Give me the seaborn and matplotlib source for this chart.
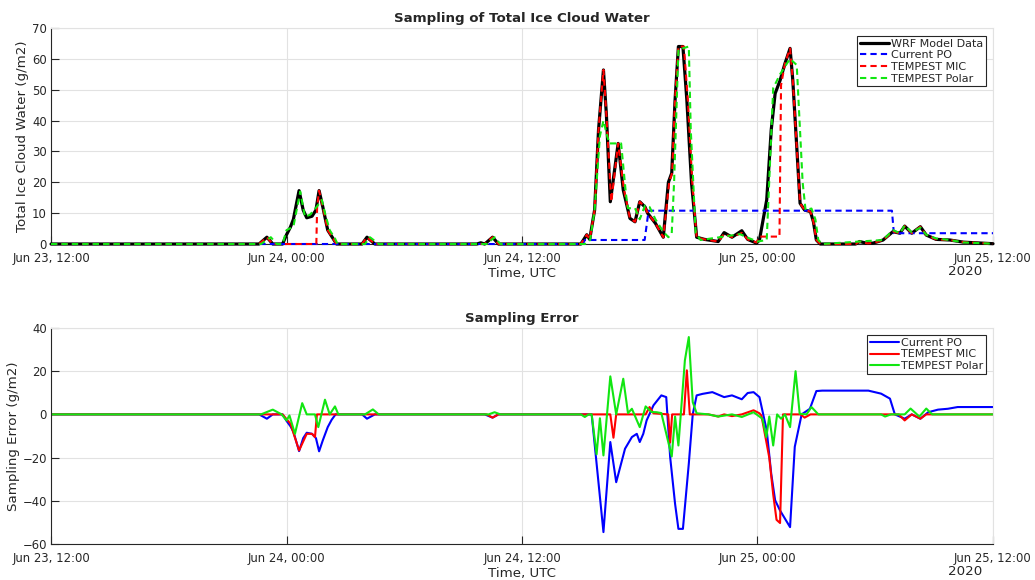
import pandas as pd
import matplotlib
matplotlib.use("Agg")
import matplotlib.pyplot as plt
import matplotlib.dates as mdates
import seaborn as sns

# (hours after 2020-06-23 12:00 UTC, value in g/m2)
wrf = [(0, 0), (10.6, 0), (11.0, 2.2), (11.3, 0), (11.8, 0), (12.0, 3), (12.2, 5.5), (12.35, 8),
       (12.64, 17.3), (12.85, 11), (13.03, 8.5), (13.3, 9.0), (13.5, 11), (13.66, 17.3), (13.85, 12),
       (14.1, 4.5), (14.3, 2.5), (14.55, 0), (15.85, 0), (16.1, 2.2), (16.5, 0), (21.7, 0), (21.9, 0.4),
       (22.1, 0), (22.5, 2.2), (22.8, 0), (27.0, 0), (27.3, 3), (27.45, 1.5), (27.7, 11), (27.9, 37),
       (28.15, 56.4), (28.3, 42), (28.5, 13.7), (28.9, 32.6), (29.16, 17.5), (29.5, 8.3), (29.76, 7.2),
       (30.0, 13.7), (30.27, 12), (30.4, 10), (30.8, 6.7), (31.2, 2.2), (31.46, 20), (31.63, 23),
       (31.8, 46.7), (31.97, 64), (32.2, 64), (32.4, 46.7), (32.64, 19.7), (32.9, 2.2), (33.3, 1.5),
       (34.0, 0.8), (34.3, 3.7), (34.7, 2.2), (35.2, 4.3), (35.5, 1.5), (35.95, 0.3), (36.1, 1.3),
       (36.47, 14.3), (36.7, 37), (36.9, 48.8), (37.15, 53), (37.4, 58.5), (37.66, 63.4), (37.8, 53),
       (38.0, 31.5), (38.17, 13.2), (38.4, 11), (38.7, 10.5), (38.85, 7.2), (39.0, 1.3), (39.2, 0),
       (41.0, 0), (41.2, 0.8), (41.6, 0.2), (41.9, 0.3), (42.4, 1.3), (42.9, 4), (43.26, 3.5),
       (43.5, 5.8), (43.86, 3.5), (44.3, 5.6), (44.6, 2.9), (45.1, 1.5), (45.8, 1.3), (46.5, 0.6),
       (48.0, 0.1)]

current_po = [(0, 0), (27.1, 0), (27.2, 1.3), (30.25, 1.3), (30.45, 10.8), (42.85, 10.8),
              (42.95, 3.5), (48.0, 3.5)]

tempest_mic = [(0, 0), (10.6, 0), (11.0, 2.2), (11.3, 0), (13.52, 0), (13.56, 12), (13.66, 17.3),
               (13.85, 12), (14.1, 4.5), (14.3, 2.5), (14.55, 0), (15.85, 0), (16.1, 2.2), (16.5, 0),
               (22.1, 0), (22.5, 2.2), (22.8, 0), (27.0, 0), (27.3, 3), (27.45, 1.5), (27.7, 11),
               (27.9, 37), (28.15, 56.4), (28.3, 42), (28.55, 13.7), (28.9, 32.6), (29.2, 17.5),
               (29.5, 8.3), (29.76, 7.2), (30.0, 13.7), (30.27, 12), (30.4, 10), (30.8, 6.7),
               (31.2, 2.2), (31.5, 20), (31.65, 23), (31.8, 46.7), (31.97, 64), (32.25, 64),
               (32.45, 46.7), (32.68, 19.7), (32.9, 2.2), (33.3, 1.5), (34.0, 0.8), (34.3, 3.3),
               (34.7, 2.2), (35.2, 3.6), (35.5, 1.5), (35.95, 0.5), (36.1, 2.4), (37.12, 2.4),
               (37.2, 51.5), (37.4, 58.5), (37.66, 63.4), (37.8, 53), (38.0, 31.5), (38.17, 13.2),
               (38.4, 11), (38.7, 10.5), (38.85, 7.2), (39.0, 1.3), (39.2, 0), (41.0, 0), (41.2, 0.8),
               (41.6, 0.2), (41.9, 0.3), (42.4, 1.3), (42.9, 4), (43.26, 3.5), (43.5, 5.8),
               (43.86, 3.5), (44.3, 5.6), (44.6, 2.9), (45.1, 1.5), (45.8, 1.3), (46.5, 0.6), (48.0, 0.1)]

tempest_polar = [(0, 0), (10.7, 0), (11.2, 2.2), (11.5, 0), (11.8, 0), (12.0, 4.5), (12.35, 5.6),
                 (12.7, 17), (12.94, 8.8), (13.2, 9.5), (13.53, 12), (13.8, 14.3), (13.96, 10),
                 (14.2, 4.5), (14.47, 1.8), (14.6, 0), (16.0, 0), (16.25, 2.2), (16.7, 0), (22.2, 0),
                 (22.6, 2.2), (22.9, 0), (27.2, 0), (27.47, 1.3), (27.7, 11), (27.97, 35), (28.15, 40),
                 (28.3, 36), (28.45, 32.6), (29.05, 32.6), (29.3, 16), (29.4, 11.6), (29.76, 11.6),
                 (30.0, 8), (30.27, 12.5), (30.5, 12), (30.8, 8), (31.2, 4), (31.46, 2.2), (31.63, 3.5),
                 (31.75, 20), (31.97, 63), (32.5, 64), (32.6, 37), (32.85, 3.5), (33.1, 1.3),
                 (34.3, 2.4), (35.1, 3.2), (35.6, 1.8), (36.0, 0.8), (36.47, 1.3), (36.8, 50.5),
                 (37.15, 55), (37.5, 58.5), (37.66, 60), (38.0, 58), (38.3, 20), (38.45, 11),
                 (38.75, 11.5), (38.95, 8), (39.1, 1.3), (39.3, 0), (41.2, 0.8), (42.4, 1.3),
                 (42.9, 4.5), (43.26, 3.5), (43.5, 6), (43.86, 3.8), (44.3, 5.3), (44.6, 3),
                 (45.1, 1.8), (45.8, 1.3), (46.5, 0.5), (48.0, 0.1)]

err_current_po = [(0, 0), (10.6, 0), (11.0, -2), (11.3, 0), (11.8, 0), (12.0, -3), (12.2, -5.5),
                  (12.35, -8), (12.64, -17), (12.85, -11), (13.03, -8.5), (13.3, -9), (13.5, -11),
                  (13.66, -17.1), (13.85, -12), (14.1, -5.9), (14.3, -2.5), (14.5, 0), (15.85, 0),
                  (16.1, -2), (16.5, 0), (22.1, 0), (22.5, -1.5), (22.8, 0), (27.55, 0),
                  (28.15, -54.5), (28.5, -12.8), (28.8, -31.4), (29.25, -15.9), (29.6, -10.5),
                  (29.85, -9), (30.0, -12.8), (30.18, -9), (30.35, -2.8), (30.7, 4.2), (31.1, 8.8),
                  (31.35, 8), (31.55, -19.8), (31.8, -41.4), (31.97, -53), (32.2, -53), (32.5, -22.8),
                  (32.7, 0), (32.9, 8.8), (33.2, 9.5), (33.7, 10.3), (34.3, 8), (34.7, 8.8), (35.2, 7),
                  (35.5, 9.9), (35.8, 10.3), (36.1, 8), (36.47, -7.4), (36.7, -27.5), (36.9, -39.8),
                  (37.15, -44.5), (37.66, -52.2), (37.9, -15), (38.25, 0), (38.67, 2.6), (39.0, 10.8),
                  (39.3, 11), (41.65, 11), (42.3, 9.6), (42.75, 7.3), (43.0, 0), (43.5, -2),
                  (43.86, 0), (44.3, -2), (44.7, 1), (45.2, 2.2), (45.7, 2.6), (46.2, 3.4), (48.0, 3.4)]

err_tempest_mic = [(0, 0), (11.8, 0), (12.2, -4.3), (12.64, -16.7), (13.03, -9), (13.3, -9),
                   (13.45, -10.5), (13.55, 0), (22.2, 0), (22.5, -1.5), (22.8, 0), (28.5, 0),
                   (28.66, -10.8), (28.8, 0), (30.3, 0), (30.5, 3.4), (30.7, 0.5), (31.45, 0),
                   (31.55, -13), (31.65, 0), (32.25, 0), (32.4, 20.4), (32.55, 0), (33.5, 0),
                   (34.0, -1), (34.3, 0), (34.7, -0.8), (35.2, 0), (35.8, 1.9), (36.1, 0.5),
                   (36.2, -0.5), (36.6, -20), (36.8, -37), (36.97, -48.8), (37.15, -50.3), (37.3, 0),
                   (38.2, 0), (38.4, -1.5), (38.7, 0), (43.2, 0), (43.5, -2.8), (43.86, 0),
                   (44.3, -2), (44.6, 0), (48.0, 0)]

err_tempest_polar = [(0, 0), (10.7, 0), (11.3, 2.2), (11.75, 0), (12.0, -2.8), (12.15, -0.5),
                     (12.43, -9), (12.8, 5.2), (13.03, 0), (13.45, 0), (13.62, -5.9), (13.96, 6.8),
                     (14.2, 0), (14.47, 3.7), (14.64, 0), (16.0, 0), (16.4, 2.3), (16.7, 0), (22.3, 0),
                     (22.6, 1), (22.9, 0), (27.0, 0), (27.2, -1.2), (27.4, 0), (27.55, 0),
                     (27.8, -18.5), (27.97, -1.8), (28.15, -19), (28.5, 17.6), (28.8, 0), (29.16, 16.5),
                     (29.4, 0.6), (29.6, 2.6), (30.0, -5.9), (30.3, 3.7), (30.6, 1.1), (30.86, 1),
                     (31.1, 0.6), (31.63, -19.5), (31.8, -1), (31.97, -14.4), (32.3, 25), (32.5, 35.8),
                     (32.7, 5.7), (32.9, 0.5), (33.5, 0), (34.0, -1), (34.7, 0), (35.2, -1.2),
                     (35.8, 1), (35.95, 0), (36.25, -2), (36.45, -10.5), (36.6, -1), (36.8, -14.4),
                     (37.0, 0), (37.2, -2), (37.4, 0), (37.66, -5.9), (37.94, 20), (38.15, 0.3),
                     (38.5, 0), (38.75, 3.4), (39.1, 0), (42.3, 0), (42.5, -1), (42.8, 0), (43.5, 0),
                     (43.8, 2.7), (44.25, -1), (44.6, 2.7), (44.9, 0), (48.0, 0)]

start = pd.Timestamp("2020-06-23 12:00")
end = pd.Timestamp("2020-06-25 12:00")
tick_hours = [0, 12, 24, 36, 48]


def to_frame(pairs):
    h, v = zip(*pairs)
    return pd.DataFrame({"time": start + pd.to_timedelta(list(h), unit="h"), "value": list(v)})


sns.set_theme(style="whitegrid")
plt.rcParams["font.family"] = ["DejaVu Sans"]

ink = "#262626"
grid_c = "#e2e2e2"
blue, red, green = "#0000ff", "#ff0000", "#11e611"

fig = plt.figure(figsize=(10.35, 5.8), dpi=100)
ax1 = fig.add_axes([0.0493, 0.5793, 0.9101, 0.3724])
ax2 = fig.add_axes([0.0493, 0.0621, 0.9101, 0.3724])

dash = (0, (3, 2))
sns.lineplot(data=to_frame(wrf), x="time", y="value", ax=ax1, color="black", lw=2.3,
             label="WRF Model Data", estimator=None, clip_on=False, zorder=3)
sns.lineplot(data=to_frame(current_po), x="time", y="value", ax=ax1, color=blue, lw=1.5,
             linestyle=dash, label="Current PO", estimator=None, clip_on=False, zorder=3)
sns.lineplot(data=to_frame(tempest_mic), x="time", y="value", ax=ax1, color=red, lw=1.5,
             linestyle=dash, label="TEMPEST MIC", estimator=None, clip_on=False, zorder=3)
sns.lineplot(data=to_frame(tempest_polar), x="time", y="value", ax=ax1, color=green, lw=1.5,
             linestyle=dash, label="TEMPEST Polar", estimator=None, clip_on=False, zorder=3)

sns.lineplot(data=to_frame(err_current_po), x="time", y="value", ax=ax2, color=blue, lw=1.5,
             label="Current PO", estimator=None)
sns.lineplot(data=to_frame(err_tempest_mic), x="time", y="value", ax=ax2, color=red, lw=1.5,
             label="TEMPEST MIC", estimator=None)
sns.lineplot(data=to_frame(err_tempest_polar), x="time", y="value", ax=ax2, color=green, lw=1.5,
             label="TEMPEST Polar", estimator=None)

ax1.set_ylim(0, 70)
ax1.set_yticks(range(0, 71, 10))
ax2.set_ylim(-60, 40)
ax2.set_yticks(range(-60, 41, 20))
ax1.set_title("Sampling of Total Ice Cloud Water", fontsize=9.6, fontweight="bold", pad=4)
ax2.set_title("Sampling Error", fontsize=9.6, fontweight="bold", pad=4)
ax1.set_ylabel("Total Ice Cloud Water (g/m2)", fontsize=9.6, color=ink, labelpad=2)
ax2.set_ylabel("Sampling Error (g/m2)", fontsize=9.6, color=ink, labelpad=2)

for ax in (ax1, ax2):
    ax.set_xlim(start, end)
    ax.set_xticks([start + pd.Timedelta(hours=h) for h in tick_hours])
    ax.xaxis.set_major_formatter(mdates.DateFormatter("%b %d, %H:%M"))
    ax.set_xlabel("Time, UTC", fontsize=9.6, color=ink, labelpad=2)
    ax.grid(True, color=grid_c, lw=0.8)
    ax.tick_params(direction="in", length=6, width=0.8, color=ink, labelcolor=ink,
                   labelsize=8.4, bottom=True, left=True)
    ax.tick_params(axis="x", pad=5.5)
    ax.tick_params(axis="y", pad=3)
    for side in ("left", "bottom"):
        ax.spines[side].set_color(ink)
        ax.spines[side].set_linewidth(0.8)
    for side in ("top", "right"):
        ax.spines[side].set_color(grid_c)
        ax.spines[side].set_linewidth(0.8)
    ax.annotate("2020", xy=(0.9707, 0), xycoords="axes fraction", xytext=(0, -20),
                textcoords="offset points", ha="center", va="center", fontsize=9.6, color=ink)

leg_kw = dict(loc="upper right", borderaxespad=0, fontsize=8, handlelength=2.6,
              handletextpad=0.2, borderpad=0.25, labelspacing=0.15, fancybox=False,
              framealpha=1, edgecolor=ink)
leg1 = ax1.legend(bbox_to_anchor=(0.9926, 0.964), **leg_kw)
leg2 = ax2.legend(bbox_to_anchor=(0.9926, 0.9676), **leg_kw)
for leg in (leg1, leg2):
    leg.get_frame().set_linewidth(0.8)

fig.savefig("out.png", dpi=100)
